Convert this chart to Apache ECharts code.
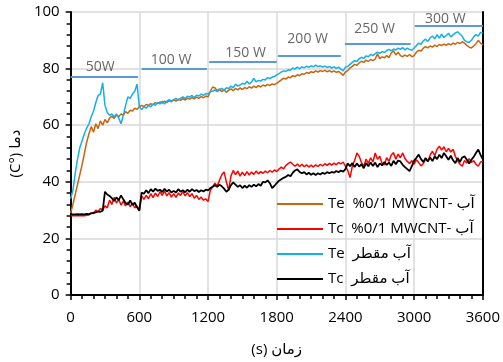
<!DOCTYPE html>
<html>
<head>
<meta charset="utf-8">
<script src="https://cdn.jsdelivr.net/npm/echarts@6/dist/echarts.min.js"></script>
<style>
  html, body { margin: 0; padding: 0; background: #fff; }
  #main { width: 503px; height: 362px; }
</style>
</head>
<body>
<div id="main"></div>
<script>
// time (s), one reading every 20 s
const times = [
  0, 20, 40, 60, 80, 100, 120, 140, 160, 180,
  200, 220, 240, 260, 280, 300, 320, 340, 360, 380,
  400, 420, 440, 460, 480, 500, 520, 540, 560, 580,
  600, 620, 640, 660, 680, 700, 720, 740, 760, 780,
  800, 820, 840, 860, 880, 900, 920, 940, 960, 980,
  1000, 1020, 1040, 1060, 1080, 1100, 1120, 1140, 1160, 1180,
  1200, 1220, 1240, 1260, 1280, 1300, 1320, 1340, 1360, 1380,
  1400, 1420, 1440, 1460, 1480, 1500, 1520, 1540, 1560, 1580,
  1600, 1620, 1640, 1660, 1680, 1700, 1720, 1740, 1760, 1780,
  1800, 1820, 1840, 1860, 1880, 1900, 1920, 1940, 1960, 1980,
  2000, 2020, 2040, 2060, 2080, 2100, 2120, 2140, 2160, 2180,
  2200, 2220, 2240, 2260, 2280, 2300, 2320, 2340, 2360, 2380,
  2400, 2420, 2440, 2460, 2480, 2500, 2520, 2540, 2560, 2580,
  2600, 2620, 2640, 2660, 2680, 2700, 2720, 2740, 2760, 2780,
  2800, 2820, 2840, 2860, 2880, 2900, 2920, 2940, 2960, 2980,
  3000, 3020, 3040, 3060, 3080, 3100, 3120, 3140, 3160, 3180,
  3200, 3220, 3240, 3260, 3280, 3300, 3320, 3340, 3360, 3380,
  3400, 3420, 3440, 3460, 3480, 3500, 3520, 3540, 3560, 3580,
  3600
];

// Te, water + 0.1% MWCNT
const teNano = [
  29, 32, 35.5, 39, 42.5, 46, 50, 54, 57, 59.5,
  57.5, 60.5, 58.8, 61.5, 60, 62, 60.8, 62.5, 63.2, 62.4,
  63.6, 63, 64, 63.5, 64.8, 64.2, 65.3, 65, 66, 65.6,
  66.5, 67, 66.6, 67.3, 67, 67.6, 67.2, 68, 67.6, 68.2,
  67.8, 68.5, 68, 68.7, 68.3, 68.9, 68.5, 69.2, 68.8, 69.4,
  68.9, 69.5, 69.2, 69.8, 69.3, 69.9, 69.5, 70.1, 69.7, 70.3,
  70, 72, 73.5, 73.2, 72.2, 72.8, 71.8, 72.5, 71.6, 72.4,
  72.8, 72.2, 73, 72.5, 73.2, 72.6, 73.3, 72.9, 73.6, 73.1,
  73.8, 73.3, 74, 73.5, 74.2, 73.8, 74.4, 74, 74.6, 74.3,
  74.8, 75.4, 76, 76.6, 76.3, 77, 76.8, 77.5, 77.2, 77.8,
  77.5, 78.2, 78, 78.6, 78.3, 78.9, 78.6, 79.2, 78.8, 79.3,
  79, 79.4, 78.9, 79.3, 78.8, 79.2, 78.7, 79, 78.4, 77.6,
  78.8, 79.3, 80.2, 80.8, 81.5, 81.2, 82, 82.6, 82.2, 83,
  82.5, 83.2, 82.8, 83.4, 85.2, 83.5, 84.2, 83.8, 84.6, 83.9,
  85.5, 86.3, 84.8, 85.8, 84.6, 84.2, 84.8, 84.3, 85, 84.2,
  84.6, 85.8, 86.5, 86.2, 87.2, 87.8, 87.3, 88, 87.6, 88.3,
  87.8, 88.5, 88.1, 88.7, 88.2, 88.8, 88.4, 89, 88.6, 89.3,
  88.8, 89.5, 89, 88.2, 87.6, 87.3, 88, 88.8, 90, 89,
  88.4
];

// Tc, water + 0.1% MWCNT
const tcNano = [
  28, 28, 28, 28, 28, 28.1, 28, 28.2, 28.3, 29,
  28.8, 30, 29.4, 30.6, 30, 31.5, 30.8, 33.5, 32, 34.5,
  32.5, 33.8, 31.8, 33.2, 31.5, 32.8, 31.2, 32.5, 30.8, 31.5,
  30.2, 35, 33.8, 35.2, 34, 35.8, 34.4, 36, 34.8, 36.5,
  35.2, 36.8, 35, 36.2, 34.6, 35.8, 34.5, 36, 35.2, 36.5,
  35, 36.2, 34.8, 35.8, 34.2, 35.2, 33.8, 34.6, 33.5, 34,
  33, 37, 38.2, 39.5, 38.5, 40.5, 42.5, 43.5, 40, 37,
  42, 44, 42.5, 43.8, 42, 43.4, 42.2, 43.6, 42.4, 43.5,
  42.6, 43.8, 42.8, 43.6, 43, 43.8, 43.2, 44, 43.4, 44.2,
  43.6, 44.5, 45.2, 44.6, 45.8, 46.4, 47, 46.2, 45.5, 46.3,
  45.4, 46.2, 45.3, 46, 45.2, 45.9, 45.2, 46, 45.4, 46.2,
  45.6, 46.4, 45.8, 46.5, 45.9, 46.6, 46, 46.8, 46.3, 47,
  45.5, 44, 41.5, 45.5, 47.5, 50.2, 49, 46.8, 45.5, 48,
  46.5, 48.5, 47, 50.2, 48, 49, 46.5, 46, 48.5, 47.2,
  49.5, 50.3, 48, 49.8, 48.5, 50.2, 48.2, 47.2, 46.5, 47.5,
  46.2, 47.8, 46.8, 45.6, 46.5, 48, 47.2, 49.5, 50.8, 49.2,
  51.5, 52.6, 51.2, 52.4, 50.6, 51.8, 50.5, 51.5, 49, 47.5,
  46.2, 45.5, 47.5, 46.6, 48.2, 46.8, 47.5, 46.2, 45.5, 47,
  47.3
];

// Te, distilled water
const teWater = [
  34, 37, 43, 48, 52, 54.5, 57, 59, 60.5, 63,
  65, 68, 70.5, 71, 75, 67, 64.5, 63.5, 64, 63,
  64, 62.5, 60.5, 63.5, 67, 70, 69.5, 71, 72, 74.5,
  66.5, 65.5, 66.5, 66, 67, 66.5, 67.5, 67, 68, 67.5,
  68.5, 67.5, 68.5, 69, 68.5, 69, 69.5, 68.8, 69.5, 70,
  69.5, 70.2, 70, 70.5, 69.8, 70.6, 70.3, 71, 70.5, 71.2,
  71, 71.8, 72, 72.5, 71.8, 72.5, 73, 72.4, 73.2, 73,
  73.8, 73.2, 74.5, 73.8, 74.2, 74.8, 74.5, 75.5, 74.6, 75.2,
  76.5, 75.3, 75.8, 75.6, 76.2, 76, 76.8, 76.5, 77, 77.2,
  77.8, 78.2, 78.8, 79.2, 79, 79.6, 79.4, 80.2, 79.8, 80.5,
  80, 80.6, 80.3, 80.9, 80.4, 81, 80.6, 81.2, 80.7, 81,
  80.5, 80.9, 80.4, 80.8, 80.2, 80.6, 80.1, 80.5, 79.8, 79.2,
  80.5, 80.8, 81.5, 82.2, 82.8, 82.5, 83.5, 84, 83.6, 84.5,
  84.2, 85, 84.6, 85.3, 85.8, 85.4, 86, 85.7, 86.4, 86.8,
  86.3, 86.9, 86.6, 87.2, 86.8, 87.4, 86.6, 87.2, 86.8, 86.5,
  87.3, 88.2, 89, 88.6, 89.8, 90.4, 89.6, 90.9, 91.5, 90.5,
  92, 90.8, 92.2, 91, 91.6, 92.5, 91.2, 91.9, 92.6, 93,
  92.2, 91.4, 90, 89.5, 89.2, 90, 91.2, 92, 91.5, 92.8,
  92.6
];

// Tc, distilled water
const tcWater = [
  28.5, 28.5, 28.5, 28.6, 28.5, 28.6, 28.5, 28.7, 28.6, 28.8,
  29, 29.2, 29.5, 29.4, 29.8, 36.5, 35.5, 35, 34.2, 33.2,
  34.5, 33.5, 35.2, 33.8, 32.5, 32, 33.4, 31.8, 32.6, 31,
  29.8, 36.2, 35.8, 37, 36, 37.4, 36.5, 37.6, 36.8, 37.2,
  36.4, 37.5, 36.6, 37.2, 36.2, 36.8, 36.2, 37.4, 36.5, 37,
  36.3, 37.2, 36.5, 37.4, 36.7, 37.1, 36.4, 37, 36.6, 37.2,
  37, 37.8, 38.2, 38.8, 38.2, 39, 38.4, 37.6, 36.5, 37.2,
  38.8, 39.8, 39, 38.2, 38.8, 37.8, 38.6, 37.9, 38.8, 38.2,
  39, 38.4, 39.2, 38.6, 40, 39.8, 40.5, 39.5, 37.8, 38.6,
  39.5, 40.4, 40.9, 41.4, 41.8, 42.4, 42, 43.2, 44, 44.4,
  43.5, 43, 43.4, 42.6, 43.2, 42.5, 43, 42.4, 43, 42.6,
  43.2, 42.8, 43.4, 43, 43.5, 43.2, 43.8, 43.4, 44, 43.6,
  44.5, 46.5, 45.5, 46.6, 45.2, 46.5, 45.4, 46.2, 44.8, 46.6,
  45.5, 46.8, 45.6, 46.8, 45.2, 46.5, 45.8, 47, 46, 46.8,
  45.6, 47.4, 46.2, 47.5, 47.2, 46, 45.2, 44.5, 43.8, 45.5,
  47.5, 48.5, 49.6, 48, 47, 48.4, 47.2, 48.6, 47.3, 49,
  48, 49.6, 48.4, 50.2, 49, 47.8, 49.2, 47.6, 46.6, 48.4,
  47, 48.6, 49, 47.8, 46.5, 47.8, 48.8, 50.2, 51.4, 49.5,
  47.9
];

const legendNames = [
  "Te  %0/1 MWCNT- آب",
  "Tc  %0/1 MWCNT- آب",
  "Te  آب مقطر",
  "Tc  آب مقطر"
];

// heater power steps
const powerNames = ["50W", "100 W", "150 W", "200 W", "250 W", "300 W"];
const powerStart = [0, 620, 1210, 1810, 2395, 3005];
const powerEnd = [590, 1190, 1800, 2360, 2970, 3600];
const powerLevel = [77, 80, 82.3, 84.6, 88.8, 95.2];
const powerLabelX = [258, 877, 1528, 2070, 2654, 3272];
const powerLabelY = [80.6, 82.9, 85.4, 90.5, 94, 97.6];

const xTicks = [0, 600, 1200, 1800, 2400, 3000, 3600];
const yTicks = [0, 20, 40, 60, 80, 100];

const FONT = "'Open Sans', 'DejaVu Sans', sans-serif";

const pairs = (vals) => times.map((t, i) => [t, vals[i]]);

const lineSeries = (name, vals, color, width) => ({
  name: name,
  type: "line",
  data: pairs(vals),
  showSymbol: false,
  symbol: "none",
  lineStyle: { color: color, width: width },
  itemStyle: { color: color },
  emphasis: { disabled: true },
});

var chart = echarts.init(document.getElementById("main"), null, { renderer: "canvas" });

const option = {
  animation: false,
  textStyle: { fontFamily: FONT },
  grid: { left: 60, right: 18, top: 12, bottom: 66 },
  legend: {
    orient: "vertical",
    left: 277,
    top: 196,
    padding: 0,
    itemWidth: 46,
    itemHeight: 2,
    itemGap: 9,
    icon: "rect",
    data: legendNames,
    textStyle: { fontSize: 15, lineHeight: 16, color: "#000", fontFamily: FONT },
  },
  xAxis: {
    type: "value",
    min: xTicks[0],
    max: xTicks[xTicks.length - 1],
    interval: 600,
    name: "(s) زمان",
    nameLocation: "middle",
    nameGap: 47,
    nameTextStyle: { fontSize: 15, color: "#000", fontFamily: FONT },
    axisLine: { lineStyle: { color: "#000", width: 2 } },
    axisTick: { show: true, length: 5, lineStyle: { color: "#000", width: 1.5 } },
    minorTick: { show: true, splitNumber: 6, length: 4, lineStyle: { color: "#000", width: 1.5 } },
    axisLabel: {
      fontSize: 15,
      color: "#000",
      margin: 15,
      fontFamily: FONT,
      formatter: (v) => String(v),
    },
    splitLine: { show: true, lineStyle: { color: "#d9d9d9", width: 1.5 } },
  },
  yAxis: [
    {
      type: "value",
      min: yTicks[0],
      max: yTicks[yTicks.length - 1],
      interval: 20,
      name: "(C°) دما",
      nameLocation: "middle",
      nameGap: 34,
      nameTextStyle: { fontSize: 15, color: "#000", fontFamily: FONT },
      axisLine: { show: true, lineStyle: { color: "#000", width: 2 } },
      axisTick: { show: true, length: 5, lineStyle: { color: "#000", width: 1.5 } },
      minorTick: { show: true, splitNumber: 5, length: 4, lineStyle: { color: "#000", width: 1.5 } },
      axisLabel: {
        fontSize: 15,
        color: "#000",
        margin: 11,
        fontFamily: FONT,
        formatter: (v) => String(v),
      },
      splitLine: { show: true, lineStyle: { color: "#d9d9d9", width: 1.5 } },
    },
    {
      type: "value",
      position: "right",
      min: 0,
      max: 100,
      interval: 20,
      axisLine: { show: true, lineStyle: { color: "#000", width: 2 } },
      axisTick: { show: false },
      axisLabel: { show: false },
      splitLine: { show: false },
    },
  ],
  series: [
    lineSeries(legendNames[0], teNano, "#c8650e", 1.5),
    lineSeries(legendNames[1], tcNano, "#ff0000", 1.5),
    lineSeries(legendNames[2], teWater, "#12b0ec", 1.5),
    lineSeries(legendNames[3], tcWater, "#000000", 1.8),
    {
      name: "power",
      type: "scatter",
      symbolSize: 0,
      silent: true,
      data: powerNames.map((n, i) => ({ value: [powerLabelX[i], powerLabelY[i]], name: n })),
      label: {
        show: true,
        position: "inside",
        formatter: (p) => p.name,
        fontSize: 14,
        color: "#404040",
        fontFamily: FONT,
      },
      markLine: {
        silent: true,
        symbol: ["none", "none"],
        label: { show: false },
        emphasis: { disabled: true },
        lineStyle: { color: "#5b9bd5", width: 2, type: "solid" },
        data: powerNames.map((n, i) => [
          { coord: [powerStart[i], powerLevel[i]] },
          { coord: [powerEnd[i], powerLevel[i]] },
        ]),
      },
    },
  ],
};

option && chart.setOption(option);
</script>
</body>
</html>
